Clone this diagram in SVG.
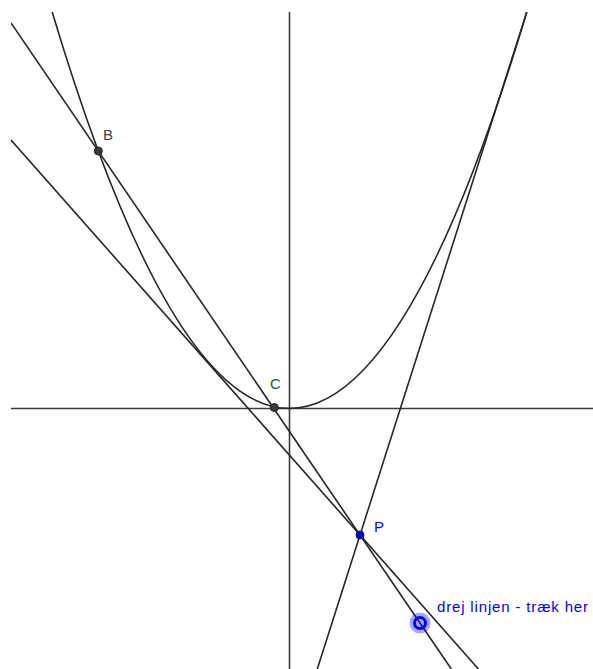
<svg xmlns="http://www.w3.org/2000/svg" width="593" height="669" viewBox="0 0 593 669">
  <style>
    .axis { stroke: #3c3c3c; stroke-width: 1.6; fill: none; }
    .ln { stroke: #262626; stroke-width: 1.6; fill: none; }
    .pt { fill: #3a3a3a; stroke: #222; stroke-width: 1; }
    .lbl { font-family: "Liberation Sans", Arial, sans-serif; font-size: 15px; fill: #444; }
    .blue { fill: #0000ff; }
  </style>
  <defs>
    <clipPath id="view">
      <rect x="11" y="12" width="582" height="657"/>
    </clipPath>
  </defs>
  <rect width="593" height="669" fill="#ffffff"/>
  <g id="connectors" clip-path="url(#view)">
    <line id="x-axis" class="axis" x1="11" y1="408.5" x2="593" y2="408.5"/>
    <line id="y-axis" class="axis" x1="289.5" y1="12" x2="289.5" y2="669"/>
    <path id="parabola" class="ln" d="M52.2,12 Q289.5,804.8 526.8,12"/>
    <line id="secant" class="ln" x1="11" y1="22.9" x2="451.3" y2="669"/>
    <line id="tangent-left" class="ln" x1="11" y1="140" x2="478.4" y2="669"/>
    <line id="tangent-right" class="ln" x1="526.8" y1="12" x2="317.3" y2="669"/>
  </g>
  <g id="node-B">
    <circle class="pt" cx="98.3" cy="151" r="4"/>
    <text class="lbl" x="103" y="140">B</text>
  </g>
  <g id="node-C">
    <circle class="pt" cx="274.3" cy="407.5" r="4"/>
    <text class="lbl" x="270" y="389">C</text>
  </g>
  <g id="node-P">
    <circle cx="360" cy="535" r="4" fill="#0000ff" stroke="#1a1a40" stroke-width="1"/>
    <text class="lbl blue" x="374" y="532">P</text>
  </g>
  <g id="node-handle">
    <circle cx="420" cy="623" r="10.5" fill="#0000ff" fill-opacity="0.35"/>
    <circle cx="420" cy="623" r="5.5" fill="none" stroke="#0000ff" stroke-width="3"/>
    <text class="lbl blue" x="437" y="611.5" font-size="17" textLength="151">drej linjen - træk her</text>
  </g>
</svg>
